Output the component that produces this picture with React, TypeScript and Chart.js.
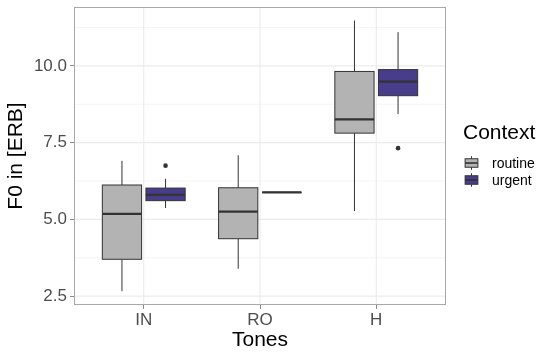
import React, { useEffect, useRef } from "react";
import { Chart, registerables } from "chart.js";

Chart.register(...registerables);

const tones = ["IN", "RO", "H"];
const contexts = ["routine", "urgent"];
const contextColors = ["#b3b3b3", "#483d8b"];

const routineMin = [2.66, 3.39, 5.27];
const routineQ1 = [3.7, 4.37, 7.81];
const routineMed = [5.18, 5.25, 8.26];
const routineQ3 = [6.12, 6.03, 9.82];
const routineMax = [6.91, 7.09, 11.48];
const routineOutliers: number[][] = [[], [], []];

const urgentMin = [5.37, 5.88, 8.43];
const urgentQ1 = [5.61, 5.88, 9.03];
const urgentMed = [5.8, 5.88, 9.49];
const urgentQ3 = [6.02, 5.88, 9.88];
const urgentMax = [6.32, 5.88, 11.1];
const urgentOutliers: number[][] = [[6.75], [], [7.32]];

const yMajorTicks = [2.5, 5, 7.5, 10];
const yMinorTicks = [3.75, 6.25, 8.75, 11.25];

const stats = [
  { min: routineMin, q1: routineQ1, med: routineMed, q3: routineQ3, max: routineMax, out: routineOutliers },
  { min: urgentMin, q1: urgentQ1, med: urgentMed, q3: urgentQ3, max: urgentMax, out: urgentOutliers },
];

const FONT = "'Liberation Sans', Arial, sans-serif";
const DODGE = 0.1875;
const BOXW = 0.3375;
const INK = "#333333";

const boxPlugin = {
  id: "boxes",
  beforeDatasetsDraw(chart: any) {
    const { ctx, chartArea: a, scales } = chart;
    const x = scales.x;
    const y = scales.y;
    ctx.save();
    ctx.strokeStyle = "#f2f2f2";
    ctx.lineWidth = 0.8;
    yMinorTicks.forEach((v) => {
      const py = y.getPixelForValue(v);
      ctx.beginPath();
      ctx.moveTo(a.left, py);
      ctx.lineTo(a.right, py);
      ctx.stroke();
    });
    ctx.strokeStyle = "#ebebeb";
    ctx.lineWidth = 1.1;
    yMajorTicks.forEach((v) => {
      const py = y.getPixelForValue(v);
      ctx.beginPath();
      ctx.moveTo(a.left, py);
      ctx.lineTo(a.right, py);
      ctx.stroke();
    });
    tones.forEach((_, i) => {
      const px = x.getPixelForValue(i + 1);
      ctx.beginPath();
      ctx.moveTo(px, a.top);
      ctx.lineTo(px, a.bottom);
      ctx.stroke();
    });
    stats.forEach((s, j) => {
      tones.forEach((_, i) => {
        const c = i + 1 + (j === 0 ? -DODGE : DODGE);
        const xl = x.getPixelForValue(c - BOXW / 2);
        const xr = x.getPixelForValue(c + BOXW / 2);
        const xc = x.getPixelForValue(c);
        const yMin = y.getPixelForValue(s.min[i]);
        const yQ1 = y.getPixelForValue(s.q1[i]);
        const yMed = y.getPixelForValue(s.med[i]);
        const yQ3 = y.getPixelForValue(s.q3[i]);
        const yMax = y.getPixelForValue(s.max[i]);
        ctx.strokeStyle = INK;
        ctx.lineWidth = 1;
        ctx.beginPath();
        ctx.moveTo(xc, yMax);
        ctx.lineTo(xc, yQ3);
        ctx.moveTo(xc, yQ1);
        ctx.lineTo(xc, yMin);
        ctx.stroke();
        ctx.fillStyle = contextColors[j];
        ctx.fillRect(xl, yQ3, xr - xl, yQ1 - yQ3);
        ctx.strokeRect(xl, yQ3, xr - xl, yQ1 - yQ3);
        ctx.lineWidth = 2.2;
        ctx.beginPath();
        ctx.moveTo(xl, yMed);
        ctx.lineTo(xr, yMed);
        ctx.stroke();
      });
    });
    ctx.restore();
  },
  afterDraw(chart: any) {
    const { ctx, chartArea: a } = chart;
    ctx.save();
    ctx.strokeStyle = "#a8a8a8";
    ctx.lineWidth = 1;
    ctx.strokeRect(a.left + 0.5, a.top + 0.5, a.right - a.left - 1, a.bottom - a.top - 1);
    const lx = a.right + 17;
    ctx.fillStyle = "#000";
    ctx.font = `21px ${FONT}`;
    ctx.textBaseline = "middle";
    ctx.textAlign = "left";
    ctx.fillText("Context", lx, 133);
    const key = 17;
    contexts.forEach((name, j) => {
      const top = 154.5 + j * key;
      const cx = lx + key / 2;
      ctx.strokeStyle = INK;
      ctx.lineWidth = 1;
      ctx.beginPath();
      ctx.moveTo(cx, top + key * 0.1);
      ctx.lineTo(cx, top + key * 0.25);
      ctx.moveTo(cx, top + key * 0.75);
      ctx.lineTo(cx, top + key * 0.9);
      ctx.stroke();
      const bx = lx + key * 0.125;
      const bw = key * 0.75;
      ctx.fillStyle = contextColors[j];
      ctx.fillRect(bx, top + key * 0.25, bw, key * 0.5);
      ctx.strokeRect(bx, top + key * 0.25, bw, key * 0.5);
      ctx.lineWidth = 1.6;
      ctx.beginPath();
      ctx.moveTo(bx, top + key / 2);
      ctx.lineTo(bx + bw, top + key / 2);
      ctx.stroke();
      ctx.fillStyle = "#000";
      ctx.font = `14px ${FONT}`;
      ctx.fillText(name, lx + key + 12, top + key / 2 + 1);
    });
    ctx.restore();
  },
};

export default function App() {
  const ref = useRef<HTMLCanvasElement>(null);
  useEffect(() => {
    if (!ref.current) return;
    const datasets = stats.map((s, j) => ({
      type: "scatter" as const,
      label: contexts[j] + " outliers",
      data: s.out.flatMap((vals, i) =>
        vals.map((v) => ({ x: i + 1 + (j === 0 ? -DODGE : DODGE), y: v }))
      ),
      pointRadius: 2.3,
      pointBackgroundColor: INK,
      pointBorderColor: INK,
      pointBorderWidth: 0,
    }));
    const chart = new Chart(ref.current, {
      type: "scatter",
      data: { datasets },
      plugins: [boxPlugin],
      options: {
        animation: false,
        responsive: false,
        layout: { padding: { top: 7, right: 104, left: 0, bottom: 0 } },
        plugins: { legend: { display: false }, tooltip: { enabled: false } },
        scales: {
          x: {
            type: "linear",
            min: 0.4,
            max: 3.6,
            afterBuildTicks: (s: any) => {
              s.ticks = tones.map((_, i) => ({ value: i + 1 }));
            },
            afterFit: (s: any) => {
              s.height = 49;
              s.paddingLeft = 0;
              s.paddingRight = 0;
            },
            ticks: {
              callback: (v: any) => tones[Math.round(v) - 1] ?? "",
              font: { size: 17, family: FONT },
              color: "#4d4d4d",
              padding: 1,
              maxRotation: 0,
            },
            grid: { display: true, drawOnChartArea: false, tickLength: 4, tickColor: "#8a8a8a", color: "#ebebeb" },
            border: { display: false },
            title: {
              display: true,
              text: "Tones",
              font: { size: 21, family: FONT },
              color: "#000",
              padding: { top: 0, bottom: 1 },
            },
          },
          y: {
            type: "linear",
            min: 2.21,
            max: 11.92,
            afterBuildTicks: (s: any) => {
              s.ticks = yMajorTicks.map((v) => ({ value: v }));
            },
            afterFit: (s: any) => {
              s.width = 74;
              s.paddingTop = 0;
              s.paddingBottom = 0;
            },
            ticks: {
              callback: (v: any) => Number(v).toFixed(1),
              font: { size: 17, family: FONT },
              color: "#4d4d4d",
              padding: 3,
            },
            grid: { display: true, drawOnChartArea: false, tickLength: 4, tickColor: "#8a8a8a", color: "#ebebeb" },
            border: { display: false },
            title: {
              display: true,
              text: "F0 in [ERB]",
              font: { size: 21, family: FONT },
              color: "#000",
              padding: { top: 4, bottom: 0 },
            },
          },
        },
      },
    });
    return () => chart.destroy();
  }, []);
  return (
    <div style={{ position: "fixed", left: 0, top: 0, width: 550, height: 354, background: "#fff" }}>
      <canvas ref={ref} width={550} height={354} />
    </div>
  );
}
